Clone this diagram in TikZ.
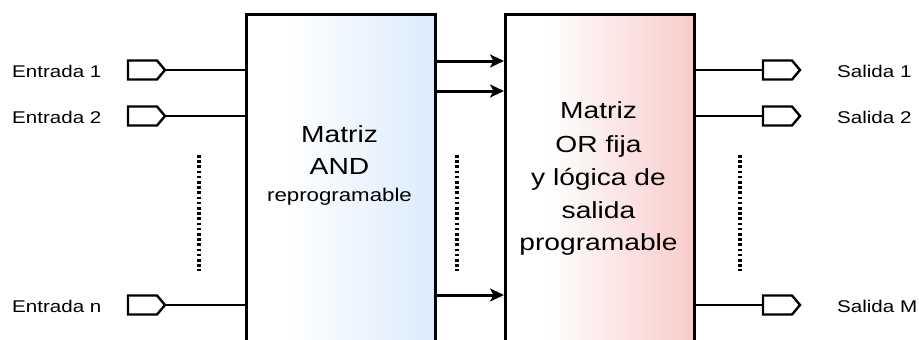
\documentclass[tikz,border=0pt]{standalone}
\usepackage{fontspec}
\setmainfont{Liberation Sans}[FakeStretch=1.21]
\usetikzlibrary{arrows.meta}

% horizontal fades used to fill the two blocks
\pgfdeclarehorizontalshading{andfade}{100bp}{rgb(0bp)=(1,1,1); rgb(36bp)=(1,1,1); rgb(75bp)=(0.86,0.92,0.99); rgb(100bp)=(0.86,0.92,0.99)}
\pgfdeclarehorizontalshading{orfade}{100bp}{rgb(0bp)=(1,1,1); rgb(36bp)=(1,1,1); rgb(75bp)=(0.973,0.80,0.79); rgb(100bp)=(0.973,0.80,0.79)}

\begin{document}
\begin{tikzpicture}[x=1pt,y=-1pt,
  block/.style={draw=black, line width=2.8pt, rectangle, anchor=north west,
    minimum width=189pt, minimum height=360pt, inner sep=0pt},
  wire/.style={line width=2.4pt},
  bus/.style={line width=3pt, -{Stealth[length=14pt,width=13pt,inset=3.5pt]}},
  ellip/.style={line width=3.2pt, dash pattern=on 2.6pt off 2.6pt},
  lbl/.style={font=\fontsize{17}{20}\selectfont, inner sep=0pt},
  big/.style={font=\fontsize{23.3}{28}\selectfont, inner sep=0pt, anchor=base},
  small/.style={font=\fontsize{18.4}{22}\selectfont, inner sep=0pt, anchor=base},
  port/.pic={
    \draw[line width=2.4pt, fill=white, line join=miter]
      (0,-9.5) -- (29,-9.5) -- (37,0) -- (29,9.5) -- (0,9.5) -- cycle;
    \coordinate (-tail) at (0,0);
    \coordinate (-tip) at (37,0);
  },
]
\useasboundingbox (0,0) rectangle (919,340);
\clip (0,0) rectangle (919,340);

% blocks
\node[block, shading=andfade] (andm) at (245,13) {};
\node[block, shading=orfade] (orm) at (504,13) {};

% block texts
\node[big]   (t1) at (339.5,142) {Matriz};
\node[big]   (t2) at (339.5,174) {AND};
\node[small] (t3) at (339.5,201) {reprogramable};

\node[big] (u1) at (598.5,118) {Matriz};
\node[big] (u2) at (598.5,152) {OR fija};
\node[big] (u3) at (598.5,185) {y lógica de};
\node[big] (u4) at (598.5,218) {salida};
\node[big] (u5) at (598.5,250) {programable};

% inputs
\pic (in1) at (128,70) {port};
\pic (in2) at (128,116) {port};
\pic (inn) at (128,305) {port};
\node[lbl, anchor=base west] (e1) at (12,77.7) {Entrada 1};
\node[lbl, anchor=base west] (e2) at (12,123.7) {Entrada 2};
\node[lbl, anchor=base west] (en) at (12,312.7) {Entrada n};
\foreach \p in {in1,in2,inn}
  \draw[wire] (\p-tip) -- (\p-tip -| andm.west);

% outputs
\pic (out1) at (763,70) {port};
\pic (out2) at (763,116) {port};
\pic (outm) at (763,305) {port};
\node[lbl, anchor=base west] (s1) at (837,77.7) {Salida 1};
\node[lbl, anchor=base west] (s2) at (837,123.7) {Salida 2};
\node[lbl, anchor=base west] (sm) at (837,312.7) {Salida M};
\foreach \p in {out1,out2,outm}
  \draw[wire] (\p-tail -| orm.east) -- (\p-tail);

% product-term buses between the blocks
\coordinate (b1) at (0,61);
\coordinate (b2) at (0,91);
\coordinate (b3) at (0,295);
\foreach \b in {b1,b2,b3}
  \draw[bus] (\b -| andm.east) -- (\b -| orm.west);

% vertical ellipses
\coordinate (d1t) at (199,155); \coordinate (d1b) at (199,271);
\coordinate (d2t) at (457,155); \coordinate (d2b) at (457,271);
\coordinate (d3t) at (740,155); \coordinate (d3b) at (740,271);
\draw[ellip] (d1t) -- (d1b);
\draw[ellip] (d2t) -- (d2b);
\draw[ellip] (d3t) -- (d3b);
\end{tikzpicture}
\end{document}
